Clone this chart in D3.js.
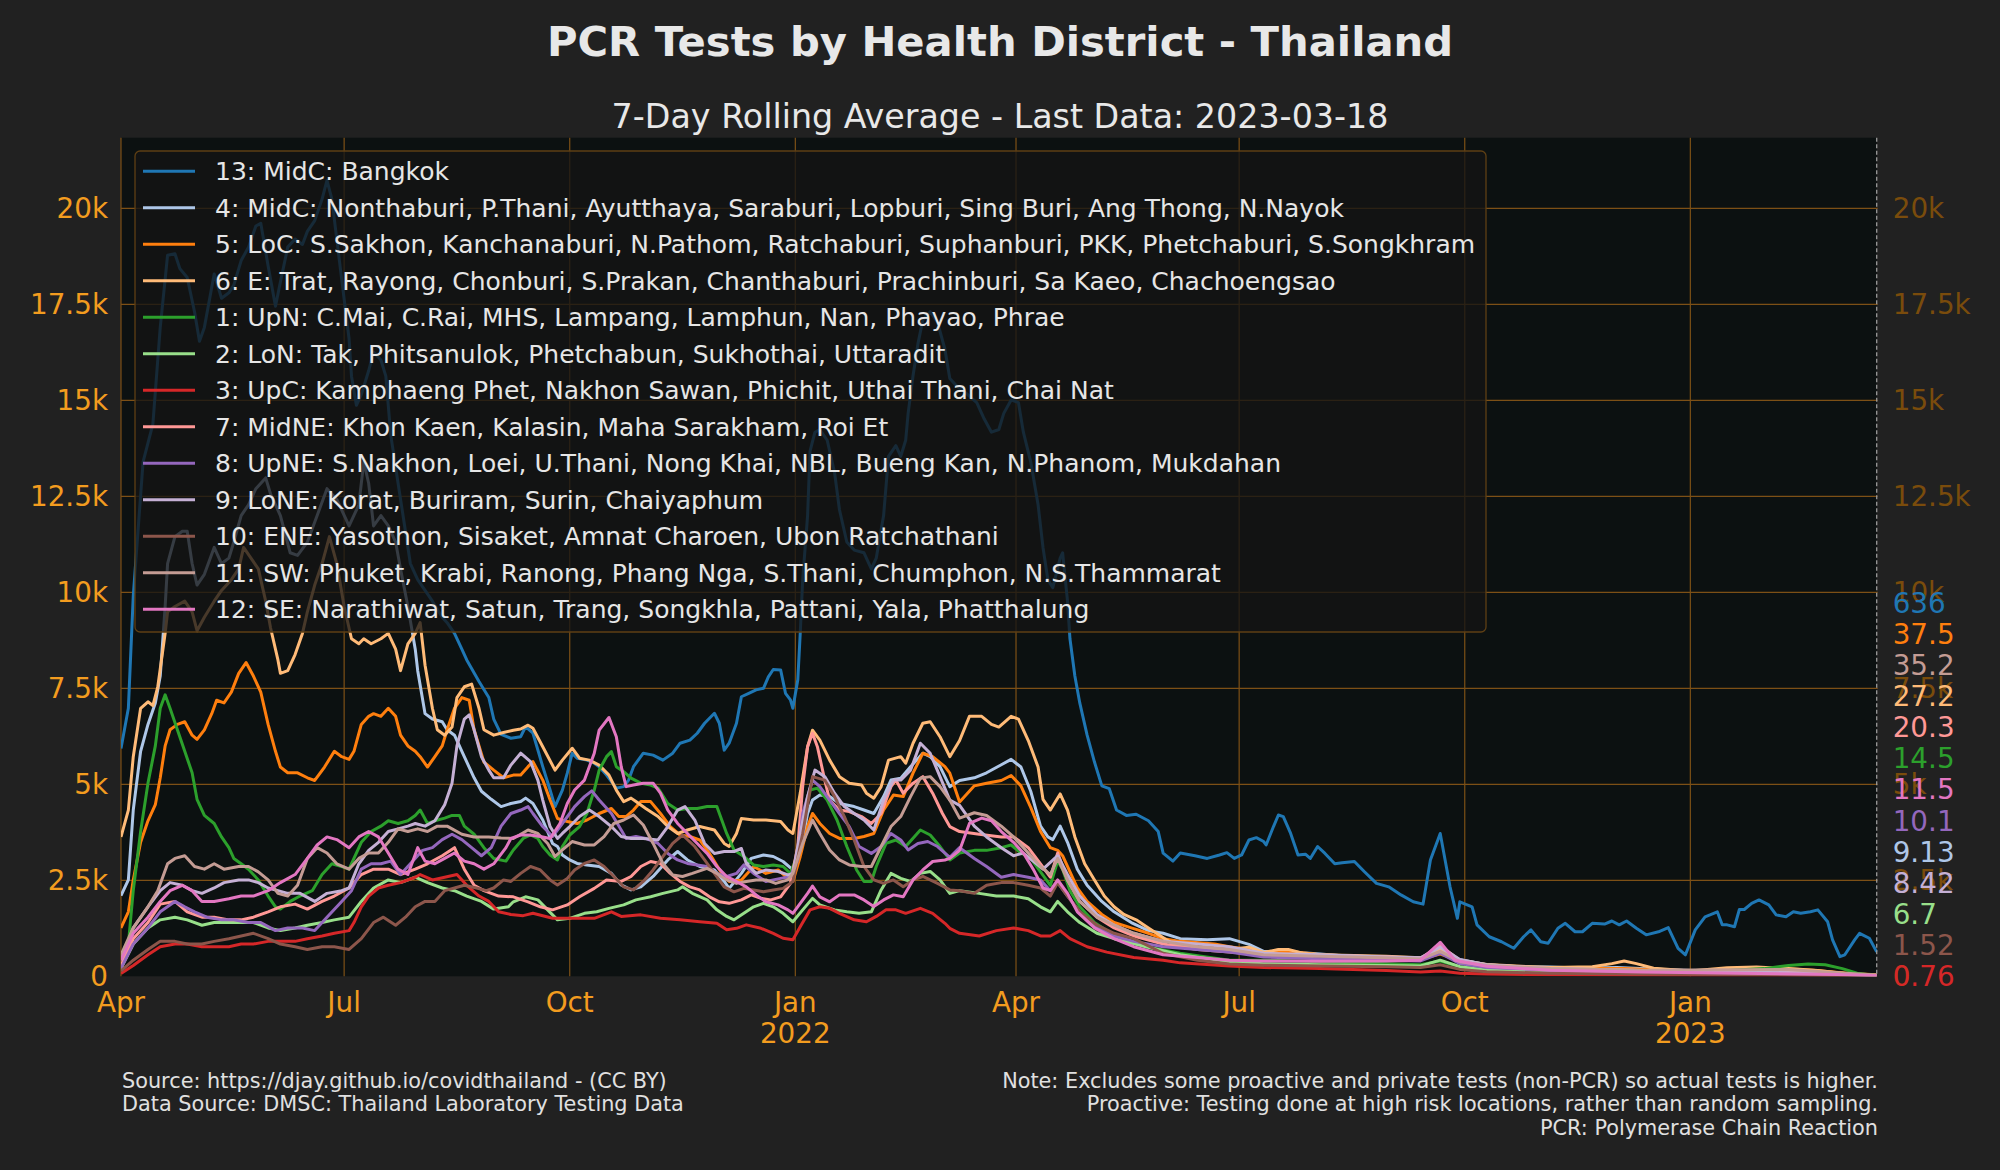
<!DOCTYPE html>
<html><head><meta charset="utf-8">
<script src="https://d3js.org/d3.v7.min.js"></script>
<style>html,body{margin:0;padding:0;background:#212121;}svg{display:block;font-family:"DejaVu Sans",sans-serif;}</style>
</head><body>
<script>
// ---------- DATA (day offset from 2021-04-01, 7-day average PCR tests) ----------
const titleText = "PCR Tests by Health District - Thailand";
const subtitleText = "7-Day Rolling Average - Last Data: 2023-03-18";
const startDay = "2021-04-01";
const endDay = "2023-03-18";
const yTicks = [0,2500,5000,7500,10000,12500,15000,17500,20000];
const xTickDates = ["2021-04-01","2021-07-01","2021-10-01","2022-01-01","2022-04-01","2022-07-01","2022-10-01","2023-01-01"];
const xTickMonths = ["Apr","Jul","Oct","Jan","Apr","Jul","Oct","Jan"];
const xTickYears = ["","","","2022","","","","2023"];
const seriesNames = [
 "13: MidC: Bangkok",
 "4: MidC: Nonthaburi, P.Thani, Ayutthaya, Saraburi, Lopburi, Sing Buri, Ang Thong, N.Nayok",
 "5: LoC: S.Sakhon, Kanchanaburi, N.Pathom, Ratchaburi, Suphanburi, PKK, Phetchaburi, S.Songkhram",
 "6: E: Trat, Rayong, Chonburi, S.Prakan, Chanthaburi, Prachinburi, Sa Kaeo, Chachoengsao",
 "1: UpN: C.Mai, C.Rai, MHS, Lampang, Lamphun, Nan, Phayao, Phrae",
 "2: LoN: Tak, Phitsanulok, Phetchabun, Sukhothai, Uttaradit",
 "3: UpC: Kamphaeng Phet, Nakhon Sawan, Phichit, Uthai Thani, Chai Nat",
 "7: MidNE: Khon Kaen, Kalasin, Maha Sarakham, Roi Et",
 "8: UpNE: S.Nakhon, Loei, U.Thani, Nong Khai, NBL, Bueng Kan, N.Phanom, Mukdahan",
 "9: LoNE: Korat, Buriram, Surin, Chaiyaphum",
 "10: ENE: Yasothon, Sisaket, Amnat Charoen, Ubon Ratchathani",
 "11: SW: Phuket, Krabi, Ranong, Phang Nga, S.Thani, Chumphon, N.S.Thammarat",
 "12: SE: Narathiwat, Satun, Trang, Songkhla, Pattani, Yala, Phatthalung"
];
const seriesColors = ["#1f77b4","#aec7e8","#ff7f0e","#ffbb78","#2ca02c","#98df8a","#d62728","#ff9896","#9467bd","#c5b0d5","#8c564b","#c49c94","#e377c2"];
const lastValueLabels = ["636","9.13","37.5","27.2","14.5","6.7","0.76","20.3","10.1","8.42","1.52","35.2","11.5"];

const s13 = [[0,5930],[3,6980],[5,9900],[9,13400],[13,14380],[16,16900],[19,18780],[22,18820],[24,18430],[27,18200],[30,17300],[32,16540],[34,16900],[38,18290],[41,17660],[44,17800],[46,18000],[49,18640],[52,18990],[55,19540],[57,19610],[60,18500],[63,17450],[65,18080],[68,18990],[71,19200],[74,19060],[76,19400],[79,19680],[82,20240],[84,20730],[86,20240],[90,18150],[93,16610],[94,15630],[96,14870],[98,15150],[101,15770],[103,16260],[106,16050],[108,15630],[110,14100],[113,12840],[116,11590],[118,10750],[121,10330],[124,10050],[127,9770],[131,9350],[133,9210],[136,8930],[139,8520],[141,8240],[146,7680],[150,7260],[152,6700],[155,6300],[159,6200],[163,6240],[165,6500],[168,6330],[172,5460],[175,4850],[177,4420],[180,4850],[182,5290],[184,5810],[186,5680],[190,5630],[193,5550],[195,5460],[198,5240],[202,4900],[205,4940],[207,5110],[209,5460],[213,5810],[217,5760],[221,5630],[225,5810],[228,6070],[232,6150],[235,6330],[238,6590],[242,6850],[244,6590],[246,5890],[248,6070],[251,6590],[253,7280],[256,7370],[259,7460],[262,7500],[264,7800],[266,7990],[269,7980],[271,7370],[273,7200],[274,6980],[276,7720],[277,8930],[278,10330],[280,12000],[281,13680],[283,14170],[285,14240],[288,13960],[291,13120],[293,12150],[296,11310],[299,11100],[303,11030],[306,10610],[308,10890],[311,12000],[313,13540],[316,13820],[318,13540],[320,13960],[321,14660],[323,15640],[325,16470],[327,17100],[330,17310],[333,17030],[336,16330],[338,15570],[341,15360],[344,15220],[349,14940],[352,14520],[355,14170],[358,14240],[360,14660],[363,15010],[366,14940],[368,14170],[371,13400],[374,12280],[376,11170],[378,10330],[380,10120],[383,10890],[384,11030],[386,9770],[387,8790],[389,7820],[391,7120],[394,6280],[397,5580],[400,4960],[403,4890],[406,4330],[410,4190],[414,4220],[419,4050],[423,3770],[425,3210],[429,3000],[432,3210],[438,3140],[443,3070],[448,3160],[451,3220],[454,3070],[457,3160],[460,3550],[463,3610],[466,3510],[467,3420],[470,3900],[472,4200],[474,4160],[477,3720],[480,3160],[483,3180],[485,3070],[488,3380],[491,3200],[495,2930],[498,2960],[503,2990],[507,2730],[512,2420],[517,2330],[522,2120],[527,1940],[531,1880],[534,3030],[538,3720],[542,2330],[545,1510],[546,1940],[551,1810],[553,1340],[558,1030],[563,900],[568,730],[572,1030],[575,1210],[579,900],[582,860],[586,1250],[589,1380],[593,1160],[596,1160],[600,1380],[605,1360],[608,1440],[611,1340],[614,1440],[618,1250],[622,1080],[627,1160],[631,1270],[635,730],[638,560],[642,1210],[646,1550],[648,1600],[651,1680],[653,1340],[655,1340],[658,1290],[660,1740],[662,1740],[665,1900],[668,1990],[672,1860],[675,1600],[679,1550],[682,1680],[685,1640],[689,1680],[692,1730],[696,1420],[698,950],[701,510],[703,560],[707,950],[709,1120],[713,990],[716,636]];

const s4 = [[0,2100],[3,2510],[5,4330],[8,5860],[11,6560],[14,7120],[16,7820],[18,9630],[19,10750],[22,11450],[25,11590],[27,11590],[29,10750],[31,10190],[34,10470],[38,11170],[41,10750],[44,10890],[46,11310],[49,12000],[52,12280],[55,12700],[59,12980],[61,12560],[65,12000],[69,11030],[72,10960],[76,11310],[80,12000],[84,12700],[88,12420],[93,11730],[97,12280],[99,13400],[101,12840],[103,11730],[106,12000],[109,11730],[112,11310],[114,10610],[117,9630],[120,8520],[121,7960],[124,6840],[127,6700],[131,6630],[133,6420],[136,6280],[140,5720],[144,5170],[147,4820],[151,4610],[155,4420],[159,4500],[163,4550],[165,4640],[168,4500],[172,4070],[176,3460],[178,3380],[180,3160],[183,3030],[186,2940],[190,2900],[195,2860],[200,2680],[204,2380],[208,2250],[212,2330],[217,2600],[223,3030],[227,3250],[231,3030],[236,2860],[242,2770],[246,2470],[248,2290],[253,2680],[257,3070],[262,3160],[266,3120],[270,2990],[274,2770],[277,3200],[280,4240],[282,4590],[285,4720],[289,4680],[293,4500],[299,4420],[303,4330],[307,4240],[311,4680],[314,5110],[318,5160],[322,5460],[327,5810],[330,5720],[334,5460],[338,4940],[342,5100],[348,5170],[353,5300],[359,5510],[363,5650],[367,5450],[371,4820],[375,3910],[378,3630],[380,3560],[383,3910],[386,3490],[390,2790],[394,2370],[400,1950],[405,1680],[412,1400],[419,1190],[425,1120],[432,980],[443,950],[452,980],[460,830],[466,650],[476,640],[489,580],[503,510],[516,470],[530,450],[534,550],[538,690],[542,520],[546,430],[557,300],[571,250],[583,240],[597,210],[610,230],[624,190],[640,150],[665,165],[692,140],[705,60],[716,9.13]];

const s5 = [[0,1260],[3,1680],[5,2510],[8,3490],[11,4050],[14,4470],[16,5170],[18,6000],[20,6420],[23,6560],[26,6630],[29,6280],[31,6170],[34,6420],[37,6840],[39,7190],[42,7120],[45,7400],[48,7890],[51,8170],[54,7820],[57,7400],[60,6560],[63,5860],[65,5450],[68,5300],[72,5300],[76,5170],[79,5100],[83,5450],[87,5860],[90,5720],[93,5650],[95,5860],[98,6560],[101,6770],[103,6840],[106,6770],[109,6980],[112,6770],[114,6280],[117,6000],[120,5860],[122,5720],[125,5450],[128,5720],[131,6000],[133,6420],[136,6980],[139,7260],[142,7190],[144,6420],[148,5580],[152,5370],[156,5170],[160,5240],[163,5240],[166,5460],[168,5590],[172,5110],[175,4590],[178,4110],[182,4030],[186,3980],[190,4070],[195,4240],[200,4370],[203,4160],[206,4160],[209,4330],[212,4550],[216,4550],[220,4240],[224,3900],[228,3680],[232,3640],[236,3550],[240,3200],[245,2680],[248,2470],[253,2510],[258,2860],[263,2680],[268,2770],[272,2550],[274,2470],[277,3120],[280,3900],[282,4240],[285,3980],[289,3720],[293,3590],[299,3590],[303,3640],[307,3720],[311,4330],[315,4720],[319,4680],[323,5290],[327,5810],[331,5720],[336,5460],[338,5290],[342,4540],[348,4960],[353,5030],[359,5100],[363,5230],[367,4960],[371,4400],[375,3770],[379,3350],[382,3280],[384,3140],[386,2860],[390,2300],[394,1950],[400,1610],[405,1400],[412,1260],[419,1120],[425,980],[432,910],[446,840],[452,770],[460,700],[466,600],[476,650],[489,560],[503,520],[516,490],[530,450],[538,580],[546,400],[557,290],[571,240],[583,210],[613,200],[640,130],[660,200],[672,220],[690,160],[705,70],[716,37.5]];

const s6 = [[0,3630],[3,4330],[5,5720],[8,6980],[11,7150],[13,7050],[15,7540],[18,8930],[19,9490],[22,9630],[26,9770],[29,9490],[31,9000],[34,9350],[38,9770],[41,10050],[45,10330],[48,10610],[50,11170],[53,10890],[56,10610],[59,9770],[61,9070],[64,8240],[65,7890],[68,7960],[71,8380],[74,8930],[76,9490],[79,10190],[82,10750],[85,11450],[88,10750],[91,9630],[94,8790],[97,8660],[99,8790],[102,8660],[106,8790],[109,8930],[112,8520],[114,7960],[117,8660],[120,8930],[122,9210],[124,8100],[127,6980],[129,6420],[132,6280],[135,6490],[137,7260],[140,7540],[143,7610],[146,6980],[148,6420],[152,6280],[156,6350],[160,6410],[163,6440],[166,6540],[168,6460],[172,5980],[177,5370],[180,5630],[184,5940],[187,5680],[191,5630],[195,5500],[199,5240],[202,4850],[205,4550],[208,4640],[210,4550],[214,4370],[219,4160],[223,3900],[227,3720],[231,3810],[236,3900],[242,3810],[246,3460],[248,3380],[251,3720],[253,4110],[258,4070],[263,4070],[269,4030],[272,3810],[274,3720],[277,4770],[280,5980],[282,6410],[285,6150],[289,5630],[293,5200],[297,5030],[302,4980],[304,4770],[307,4640],[310,4940],[313,5630],[318,5720],[320,5550],[323,6070],[327,6590],[330,6630],[334,6240],[338,5720],[342,6140],[346,6770],[351,6770],[355,6560],[358,6490],[363,6770],[366,6700],[370,6140],[374,5450],[376,4610],[379,4330],[383,4750],[386,4330],[389,3630],[393,2930],[397,2510],[401,2090],[405,1810],[409,1610],[414,1470],[419,1260],[424,1050],[429,840],[439,770],[452,700],[460,760],[466,620],[472,700],[476,700],[482,600],[489,560],[503,540],[516,520],[530,480],[538,700],[542,480],[546,420],[557,310],[571,260],[583,230],[600,250],[608,330],[613,400],[618,330],[625,210],[640,140],[655,220],[667,240],[680,200],[692,150],[705,60],[716,27.2]];

const s1 = [[0,140],[3,840],[5,2230],[8,3770],[11,5030],[14,6000],[16,6980],[18,7330],[20,6980],[23,6420],[26,5860],[29,5300],[31,4610],[34,4190],[38,3980],[41,3630],[44,3350],[46,3070],[49,2930],[52,2790],[56,2510],[60,2090],[63,1810],[65,1750],[69,1950],[73,2090],[78,2230],[82,2650],[86,2930],[90,2860],[93,2790],[95,3070],[98,3490],[102,3770],[106,3910],[109,4050],[113,3980],[117,4050],[120,4190],[122,4330],[125,3980],[128,4050],[132,4120],[135,4190],[138,4190],[140,3910],[144,3700],[148,3350],[152,3070],[157,3000],[160,3290],[164,3590],[167,3680],[170,3590],[172,3380],[175,3160],[178,3030],[180,3380],[183,3680],[187,3900],[190,4240],[193,4850],[195,5370],[198,5720],[200,5850],[202,5460],[205,5330],[208,5160],[212,5030],[216,4980],[219,4900],[223,4500],[227,4330],[231,4370],[235,4370],[239,4420],[243,4420],[245,4070],[247,3720],[250,3290],[254,3120],[258,2900],[262,2860],[266,2900],[270,2860],[273,2680],[276,3200],[278,3980],[281,4850],[284,4900],[288,4590],[292,4070],[296,3380],[300,2770],[303,2470],[306,2470],[308,2860],[312,3460],[316,3550],[320,3380],[326,3810],[330,3680],[334,3380],[338,3030],[342,3210],[348,3280],[353,3280],[359,3350],[363,3420],[367,3210],[371,3070],[375,2720],[379,2370],[382,3000],[384,2790],[387,2230],[391,1810],[397,1400],[402,1190],[409,980],[418,770],[432,600],[452,420],[466,420],[489,380],[516,330],[530,300],[538,400],[546,250],[560,180],[583,150],[620,120],[650,130],[670,200],[680,280],[688,320],[695,300],[702,200],[708,80],[716,14.5]];

const s2 = [[0,210],[5,840],[11,1260],[16,1470],[22,1540],[27,1470],[33,1330],[38,1400],[44,1400],[49,1400],[54,1400],[60,1260],[65,1190],[71,1260],[76,1330],[82,1400],[87,1470],[93,1540],[98,1950],[103,2300],[109,2510],[114,2440],[120,2580],[125,2440],[131,2300],[136,2230],[141,2090],[147,1950],[152,1750],[158,1810],[160,1940],[165,2070],[170,1990],[174,1730],[178,1470],[183,1510],[189,1640],[194,1680],[199,1770],[205,1860],[210,1990],[216,2070],[221,2160],[227,2250],[229,2330],[233,2160],[239,1990],[243,1730],[247,1560],[250,1470],[254,1640],[258,1810],[262,1900],[266,1810],[270,1640],[274,1420],[278,1730],[282,2030],[285,1860],[291,1730],[296,1680],[301,1640],[306,1680],[310,2250],[314,2680],[318,2550],[322,2470],[326,2680],[330,2730],[334,2510],[338,2160],[342,2230],[350,2160],[357,2090],[364,2090],[370,2020],[375,1810],[379,1680],[382,1950],[386,1680],[391,1400],[398,1120],[405,980],[418,770],[432,560],[452,380],[466,330],[489,300],[516,280],[530,270],[538,420],[546,250],[557,160],[583,110],[620,80],[660,60],[700,30],[716,6.7]];

const s3 = [[0,70],[5,280],[11,560],[16,770],[22,840],[27,840],[33,770],[38,770],[44,770],[49,840],[54,840],[60,910],[65,910],[71,910],[76,980],[82,1050],[87,1120],[93,1190],[95,1400],[98,1810],[101,2090],[105,2300],[109,2370],[114,2440],[120,2580],[122,2650],[127,2510],[132,2580],[137,2650],[141,2370],[146,2090],[150,1950],[154,1680],[159,1610],[164,1580],[168,1640],[176,1510],[185,1510],[193,1510],[200,1680],[204,1560],[212,1600],[220,1510],[228,1470],[236,1420],[243,1380],[247,1210],[251,1250],[255,1340],[261,1250],[266,1120],[270,990],[274,950],[277,1290],[281,1730],[285,1810],[289,1770],[293,1640],[299,1470],[304,1420],[308,1560],[312,1730],[316,1730],[320,1640],[326,1770],[331,1640],[336,1380],[338,1250],[342,1120],[350,1050],[357,1190],[364,1260],[370,1190],[375,1050],[379,1050],[383,1190],[387,980],[394,770],[402,630],[413,490],[425,420],[432,350],[452,270],[466,230],[489,200],[516,150],[530,110],[538,140],[546,80],[557,60],[583,40],[620,30],[660,20],[700,10],[716,0.76]];

const s7 = [[0,280],[5,980],[11,1400],[16,1880],[22,1950],[27,1680],[33,1540],[38,1540],[44,1470],[49,1470],[54,1540],[60,1680],[65,1810],[71,1880],[76,1750],[82,1950],[87,2090],[93,2300],[98,2650],[103,2790],[109,2790],[114,2650],[120,2790],[125,2930],[131,3140],[136,3350],[140,2790],[144,2370],[148,2230],[154,2090],[160,2070],[166,1940],[171,1810],[176,1730],[182,1860],[187,2070],[193,2290],[198,2510],[204,2470],[208,2600],[212,2860],[216,2990],[220,2940],[224,2680],[228,2470],[232,2330],[236,2250],[240,2070],[244,1940],[248,1900],[253,1990],[257,2120],[261,2030],[265,1990],[269,2070],[273,2420],[276,3380],[278,4940],[280,5980],[282,6330],[284,5980],[287,5110],[289,4590],[293,4330],[297,4290],[302,4160],[306,3980],[310,4240],[314,4940],[316,5110],[319,4770],[323,5030],[327,5200],[331,4770],[335,4240],[338,3900],[342,3770],[350,3700],[359,3630],[364,3630],[370,3350],[375,2930],[379,2580],[382,3210],[386,2510],[391,1950],[398,1540],[405,1260],[413,1050],[425,840],[439,700],[452,630],[466,560],[489,540],[516,500],[530,470],[538,800],[546,420],[557,290],[583,200],[620,150],[660,130],[700,60],[716,20.3]];

const s8 = [[0,210],[5,840],[11,1260],[16,1680],[22,1950],[26,1810],[30,1680],[35,1540],[41,1470],[46,1470],[52,1400],[57,1400],[63,1190],[68,1260],[74,1260],[79,1190],[84,1540],[90,1950],[94,2230],[98,2790],[102,2930],[106,2930],[110,3000],[114,2650],[118,2930],[123,3280],[127,3350],[131,3560],[135,3700],[139,3560],[143,3350],[147,3140],[151,3350],[155,3910],[159,4240],[163,4330],[166,4420],[168,4240],[172,3900],[176,3640],[180,3980],[185,4420],[189,4680],[192,4830],[195,4590],[200,4240],[204,3810],[206,3590],[210,3640],[214,3590],[219,3460],[223,3200],[227,3030],[231,2940],[235,2900],[239,2860],[243,2680],[247,2600],[251,2680],[254,2900],[258,2680],[263,2470],[269,2550],[273,2600],[276,3030],[278,4240],[282,5110],[285,4940],[289,4590],[293,4240],[297,3900],[301,3380],[306,3200],[310,3380],[314,3720],[318,3550],[321,3290],[325,3460],[329,3510],[333,3380],[338,3100],[342,3350],[348,3070],[353,2860],[359,2580],[364,2650],[370,2580],[375,2510],[379,2230],[382,2440],[386,2090],[391,1680],[398,1260],[405,1050],[413,910],[425,770],[439,700],[452,630],[466,500],[489,460],[516,420],[530,400],[538,600],[546,330],[557,230],[583,160],[620,120],[660,100],[700,50],[716,10.1]];

const s9 = [[0,420],[5,1260],[11,1810],[16,2230],[20,2440],[25,2370],[29,2230],[33,2160],[38,2300],[42,2440],[48,2510],[52,2510],[56,2440],[60,2300],[64,2230],[68,2160],[73,2160],[79,1950],[84,2160],[90,2230],[93,2300],[97,2930],[101,3280],[105,3490],[109,3770],[113,3840],[117,3910],[120,3980],[124,3910],[128,4050],[132,4470],[135,5030],[137,6000],[140,6700],[142,6810],[144,6420],[147,5720],[150,5370],[152,5170],[156,5170],[159,5500],[163,5810],[167,5590],[170,5110],[172,4590],[175,3900],[178,3590],[180,3720],[183,3900],[187,4160],[191,4330],[195,4160],[200,3900],[204,3640],[208,3590],[213,3590],[219,3550],[223,3900],[227,4330],[230,4420],[234,4070],[238,3460],[242,3200],[246,3250],[250,3250],[253,3330],[255,2940],[259,2680],[263,2770],[268,2730],[272,2640],[274,2680],[277,3720],[280,4680],[283,5370],[287,5200],[291,4770],[295,4420],[299,4240],[303,4070],[307,3810],[311,4590],[315,5110],[318,5110],[322,5370],[326,6070],[330,5810],[334,5200],[338,4590],[342,4450],[348,3910],[353,3630],[359,3350],[364,3140],[368,3210],[372,3000],[376,2790],[382,3140],[386,2650],[391,2090],[398,1610],[405,1330],[413,1120],[425,910],[439,840],[452,770],[466,600],[489,560],[516,500],[530,480],[538,760],[546,440],[557,300],[583,200],[620,150],[660,120],[700,60],[716,8.42]];

const s10 = [[0,140],[5,420],[11,700],[16,910],[22,910],[27,840],[33,840],[38,910],[44,980],[49,1050],[54,1120],[60,980],[65,840],[71,770],[76,700],[82,770],[87,770],[93,700],[98,980],[103,1400],[107,1540],[112,1330],[116,1540],[120,1810],[124,1950],[128,1950],[132,2230],[136,2300],[140,2370],[145,2300],[149,2230],[152,2300],[156,2510],[159,2470],[163,2680],[167,2860],[171,2770],[175,2510],[178,2380],[182,2550],[185,2770],[189,2940],[193,3030],[197,2860],[201,2600],[205,2330],[209,2250],[213,2470],[217,2770],[221,3120],[225,3460],[229,3680],[234,3380],[238,3030],[242,2680],[246,2330],[250,2200],[254,2290],[258,2250],[262,2200],[266,2250],[270,2290],[274,2470],[278,3720],[282,5200],[287,5110],[291,4680],[295,4160],[299,3550],[303,2860],[307,2510],[311,2420],[315,2510],[319,2330],[323,2510],[327,2600],[333,2420],[338,2250],[342,2230],[348,2160],[353,2370],[359,2440],[364,2440],[370,2370],[375,2300],[379,2090],[382,2440],[386,2090],[391,1680],[398,1330],[405,1120],[413,980],[425,600],[439,420],[452,320],[466,290],[489,270],[516,250],[530,230],[538,300],[546,180],[557,120],[583,80],[620,60],[660,50],[700,20],[716,1.52]];

const s11 = [[0,560],[5,1260],[11,1810],[15,2230],[19,2930],[22,3070],[26,3140],[30,2860],[34,2790],[38,2930],[42,2790],[48,2860],[52,2860],[56,2720],[60,2510],[64,2160],[68,2090],[72,2370],[76,3070],[80,3350],[84,3210],[88,2930],[93,2790],[97,3070],[101,3210],[105,3210],[109,3490],[113,3840],[117,3770],[121,3840],[125,3770],[129,3910],[133,3910],[139,3700],[144,3630],[150,3630],[155,3600],[160,3590],[166,3810],[170,3720],[174,3460],[177,3120],[180,3290],[184,3510],[189,3420],[193,3420],[197,3640],[201,3980],[205,4070],[209,4200],[213,3940],[217,3460],[221,2940],[225,2640],[229,2600],[233,2680],[239,2810],[243,2680],[247,2510],[251,2420],[255,2470],[259,2510],[263,2510],[267,2420],[272,2510],[274,2680],[278,3460],[282,4070],[285,3720],[289,3290],[293,3030],[297,2900],[302,2860],[306,2860],[310,3380],[314,3900],[318,4160],[322,4680],[326,5160],[330,5200],[334,4940],[338,4590],[342,4120],[348,4260],[353,4190],[359,3910],[364,3630],[370,3210],[375,2860],[379,2650],[382,3070],[386,2510],[391,1950],[398,1540],[405,1330],[413,1120],[425,910],[439,770],[452,700],[466,560],[489,520],[516,480],[530,450],[538,650],[546,380],[557,280],[583,200],[620,160],[660,170],[680,180],[700,90],[716,35.2]];

const s12 = [[0,420],[5,1120],[11,1540],[16,1950],[20,2230],[25,2370],[29,2230],[33,1950],[38,1950],[44,2020],[49,2090],[54,2090],[60,2230],[65,2440],[71,2650],[76,3070],[80,3420],[84,3630],[88,3560],[93,3350],[97,3630],[101,3770],[105,3630],[109,3210],[113,2790],[117,2650],[121,3350],[124,3000],[128,2930],[132,3070],[136,3210],[140,3000],[144,2930],[148,2790],[152,2930],[157,3350],[159,3590],[163,3680],[167,3680],[171,3640],[175,3590],[179,3980],[182,4500],[185,4850],[189,5110],[193,5810],[195,6410],[199,6740],[202,6240],[204,5460],[206,4940],[209,4980],[213,5030],[217,5030],[220,4770],[223,4330],[227,3980],[231,3720],[235,3460],[239,3200],[243,2860],[247,2600],[251,2470],[255,2330],[259,2120],[263,1940],[268,1860],[272,1730],[274,1640],[277,1900],[280,2160],[282,2350],[285,2070],[289,1940],[293,2120],[299,2120],[303,1990],[307,1820],[311,1990],[315,2120],[319,2070],[323,2510],[327,2770],[331,2990],[336,3030],[338,3070],[342,3280],[346,3980],[351,4120],[355,4050],[359,3770],[364,3490],[368,3210],[372,2790],[376,2300],[379,2230],[382,2510],[386,2160],[390,1680],[397,1260],[405,980],[413,770],[425,560],[439,490],[452,420],[466,400],[489,390],[516,400],[530,420],[538,885],[544,420],[557,260],[583,160],[620,110],[660,80],[700,50],[716,11.5]];

const seriesData = [s13,s4,s5,s6,s1,s2,s3,s7,s8,s9,s10,s11,s12];

// ---------- LAYOUT ----------
const W = 2000, H = 1170;
const M = {left:121, right:1876.7, top:137.7, bottom:976.3};
const gridColor = "#7d5016";
const tickColor = "#f39c1f";
const rightTickColor = "#7a4c0c";
const textColor = "#e6e6e6";

const svg = d3.select("body").append("svg").attr("width",W).attr("height",H);
svg.append("rect").attr("width",W).attr("height",H).attr("fill","#212121");

const parse = d3.utcParse("%Y-%m-%d");
const t0 = parse(startDay);
const x = d3.scaleUtc().domain([t0, parse(endDay)]).range([M.left, M.right]);
const y = d3.scaleLinear().domain([0, 21840]).range([M.bottom, M.top]);
const dayToDate = d => d3.utcDay.offset(t0, d);

svg.append("rect").attr("x",M.left).attr("y",M.top).attr("width",M.right-M.left).attr("height",M.bottom-M.top).attr("fill","#0c1111");

// grid
const g = svg.append("g");
g.selectAll("line.h").data(yTicks.filter(v=>v>0)).join("line")
 .attr("x1",M.left).attr("x2",M.right+1).attr("y1",d=>y(d)).attr("y2",d=>y(d))
 .attr("stroke",gridColor).attr("stroke-width",1.2);
g.selectAll("line.v").data(xTickDates).join("line")
 .attr("x1",d=>x(parse(d))).attr("x2",d=>x(parse(d))).attr("y1",M.top).attr("y2",M.bottom)
 .attr("stroke",gridColor).attr("stroke-width",1.2);

// clip
svg.append("clipPath").attr("id","clip").append("rect").attr("x",M.left).attr("y",M.top-2).attr("width",M.right-M.left+1).attr("height",M.bottom-M.top+2);

const line = d3.line().x(d=>x(dayToDate(d[0]))).y(d=>y(d[1]));
const lg = svg.append("g").attr("clip-path","url(#clip)");
seriesData.forEach((s,i)=>{
  lg.append("path").datum(s).attr("d",line).attr("fill","none")
    .attr("stroke",seriesColors[i]).attr("stroke-width",3).attr("stroke-linejoin","round");
});

// dashed right line
svg.append("line").attr("x1",M.right).attr("x2",M.right).attr("y1",M.top).attr("y2",M.bottom)
 .attr("stroke","#9a9a9a").attr("stroke-width",1.3).attr("stroke-dasharray","4,2.5");

// left y axis
const fmt = v => v===0 ? "0" : (v/1000)+"k";
const yAxisL = d3.axisLeft(y).tickValues(yTicks).tickFormat(fmt).tickSize(0).tickPadding(13);
const gl = svg.append("g").attr("transform",`translate(${M.left},0)`).call(yAxisL);
gl.select(".domain").remove();
gl.selectAll("text").attr("fill",tickColor).attr("font-size",27.8).attr("font-family","DejaVu Sans");

// right y axis
const yAxisR = d3.axisRight(y).tickValues(yTicks).tickFormat(fmt).tickSize(0).tickPadding(16);
const gr = svg.append("g").attr("transform",`translate(${M.right},0)`).call(yAxisR);
gr.select(".domain").remove();
gr.selectAll("text").attr("fill",rightTickColor).attr("font-size",27.8).attr("font-family","DejaVu Sans");

// x axis
const xa = svg.append("g");
xa.selectAll("text.m").data(xTickDates).join("text")
 .attr("x",d=>x(parse(d))).attr("y",1012).attr("text-anchor","middle")
 .attr("fill",tickColor).attr("font-size",27.8).text((d,i)=>xTickMonths[i]);
xa.selectAll("text.yr").data(xTickDates).join("text")
 .attr("x",d=>x(parse(d))).attr("y",1043).attr("text-anchor","middle")
 .attr("fill",tickColor).attr("font-size",27.8).text((d,i)=>xTickYears[i]);

// right value labels (stacked to avoid overlap)
const order = seriesData.map((s,i)=>({i, v:s[s.length-1][1]})).sort((a,b)=>a.v-b.v);
let prev = Infinity;
const gap = 31.1;
order.forEach(o=>{
  let p = y(o.v);
  if (p > prev - gap) p = prev - gap;
  o.p = p; prev = p;
});
svg.append("g").selectAll("text").data(order).join("text")
 .attr("x",M.right+16).attr("y",d=>d.p).attr("dy","0.35em")
 .attr("fill",d=>seriesColors[d.i]).attr("font-size",27.8).text(d=>lastValueLabels[d.i]);

// legend
const L = {x:135, y:151, w:1351, h:481, row0:171.3, step:36.5};
const leg = svg.append("g");
leg.append("rect").attr("x",L.x).attr("y",L.y).attr("width",L.w).attr("height",L.h).attr("rx",5)
 .attr("fill","#141414").attr("fill-opacity",0.78).attr("stroke","#5e3f14").attr("stroke-width",1.3);
seriesNames.forEach((n,i)=>{
  const yy = L.row0 + i*L.step;
  leg.append("line").attr("x1",143).attr("x2",195).attr("y1",yy).attr("y2",yy)
   .attr("stroke",seriesColors[i]).attr("stroke-width",3);
  leg.append("text").attr("x",215).attr("y",yy).attr("dy","0.36em").attr("fill",textColor)
   .attr("font-size",25).text(n);
});

// titles
svg.append("text").attr("x",1000).attr("y",56).attr("text-anchor","middle").attr("font-weight","bold")
 .attr("font-size",41.7).attr("fill","#e8e8e8").text(titleText);
svg.append("text").attr("x",1000).attr("y",128).attr("text-anchor","middle")
 .attr("font-size",33.3).attr("fill","#e8e8e8").text(subtitleText);

// footer
const footL = ["Source: https://djay.github.io/covidthailand - (CC BY)","Data Source: DMSC: Thailand Laboratory Testing Data"];
const footR = ["Note: Excludes some proactive and private tests (non-PCR) so actual tests is higher.","Proactive: Testing done at high risk locations, rather than random sampling.","PCR: Polymerase Chain Reaction"];
footL.forEach((t,i)=>svg.append("text").attr("x",122).attr("y",1088+i*23.4).attr("font-size",20.8).attr("fill","#e0e0e0").text(t));
footR.forEach((t,i)=>svg.append("text").attr("x",1878).attr("y",1088+i*23.4).attr("text-anchor","end").attr("font-size",20.8).attr("fill","#e0e0e0").text(t));
</script>
</body></html>
